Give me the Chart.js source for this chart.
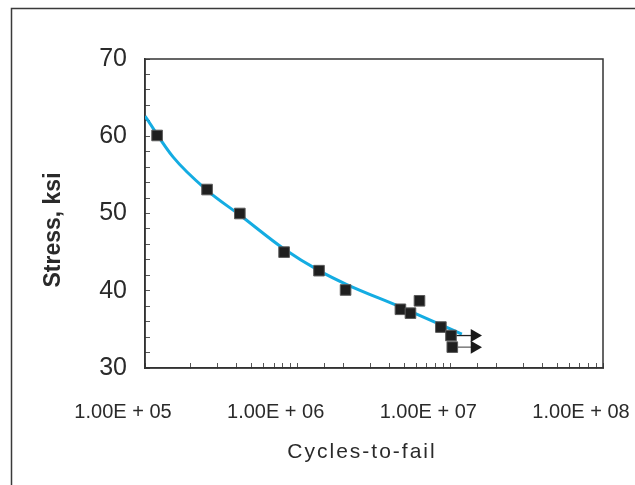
<!DOCTYPE html>
<html>
<head>
<meta charset="utf-8">
<script src="https://cdn.jsdelivr.net/npm/chart.js@4/dist/chart.umd.min.js"></script>
<style>
  html, body { margin: 0; padding: 0; background: #fff; }
  #wrap { width: 635px; height: 485px; position: relative; }
</style>
</head>
<body>
<div id="wrap"><canvas id="snChart"></canvas></div>
<script>
// ── Data ──────────────────────────────────────────────────────
const cycles = [1.20e5, 2.55e5, 4.18e5, 8.15e5, 1.38e6, 2.06e6, 4.71e6, 5.48e6, 6.28e6, 8.67e6, 1.01e7, 1.03e7];
const stress = [60.1, 53.1, 50.0, 45.0, 42.6, 40.1, 37.6, 37.1, 38.7, 35.3, 34.2, 32.7];

// trend curve, sampled along the drawn line
const fitCycles = [1.0e5, 1.53e5, 2.55e5, 4.18e5, 8.15e5, 1.38e6, 2.10e6, 4.71e6, 7.02e6, 1.19e7];
const fitStress = [62.6, 57.3, 53.0, 49.8, 45.4, 42.6, 40.8, 37.9, 36.4, 34.4];

// run-outs (did not fail): arrow from the point to the right
const runoutFrom   = [1.01e7, 1.03e7];
const runoutTo     = [1.44e7, 1.44e7];
const runoutStress = [34.2, 32.7];

const yTicks = [30, 40, 50, 60, 70];
const xDecades = [5, 6, 7, 8];

const FONT = "'Liberation Sans', Arial, sans-serif";
const INK  = '#2a2a2a';

// ── Datasets ──────────────────────────────────────────────────
const points = cycles.map((c, i) => ({ x: c, y: stress[i] }));
const curve  = fitCycles.map((c, i) => ({ x: c, y: fitStress[i] }));

const arrowSets = runoutFrom.map((c, i) => ({
    type: 'line',
    data: [{ x: c, y: runoutStress[i] }, { x: runoutTo[i], y: runoutStress[i] }],
    borderColor: i === 0 ? '#222' : '#666',
    borderWidth: 1.3,
    pointRadius: [0, 7.5],
    pointStyle: 'triangle',
    pointRotation: 90,
    pointBackgroundColor: '#1a1a1a',
    pointBorderColor: '#1a1a1a',
    pointBorderWidth: 0,
    order: 1
}));

// ── Frame, plot box, axis titles ──────────────────────────────
const framePlugin = {
    id: 'frame',
    beforeDraw(chart) {
        const ctx = chart.ctx;
        ctx.save();
        ctx.strokeStyle = '#3a3a3a';
        ctx.lineWidth = 1.5;
        ctx.strokeRect(11.5, 8.5, 700, 600);
        ctx.restore();
    },
    beforeDatasetsDraw(chart) {
        const { ctx, chartArea: a } = chart;
        ctx.save();
        ctx.strokeStyle = '#333';
        ctx.lineWidth = 1.5;
        ctx.strokeRect(a.left, a.top, a.right - a.left, a.bottom - a.top);
        ctx.restore();
    },
    afterDraw(chart) {
        const ctx = chart.ctx;
        ctx.save();
        ctx.fillStyle = INK;
        ctx.textAlign = 'center';
        ctx.textBaseline = 'middle';
        // x title
        ctx.font = "21px " + FONT;
        ctx.letterSpacing = '2px';
        ctx.fillText('Cycles-to-fail', 362, 452);
        // y title
        ctx.letterSpacing = '0px';
        ctx.font = "bold 23px " + FONT;
        ctx.translate(54, 230);
        ctx.rotate(-Math.PI / 2);
        ctx.fillText('Stress, ksi', 0, 0);
        ctx.restore();
    }
};

new Chart(document.getElementById('snChart'), {
    type: 'scatter',
    data: {
        datasets: [
            {
                label: 'Tests',
                data: points,
                pointStyle: 'rect',
                pointRadius: 7.5,
                pointHoverRadius: 7.5,
                pointBackgroundColor: '#1f1f1f',
                pointBorderColor: '#5a5a5a',
                pointBorderWidth: 1,
                order: 0
            },
            {
                type: 'line',
                label: 'Fit',
                data: curve,
                borderColor: '#14ace2',
                borderWidth: 3,
                pointRadius: 0,
                cubicInterpolationMode: 'monotone',
                order: 2
            },
            ...arrowSets
        ]
    },
    options: {
        responsive: true,
        maintainAspectRatio: false,
        animation: false,
        events: [],
        layout: { padding: { left: 0, top: 59, right: 32, bottom: 0 } },
        plugins: { legend: { display: false }, tooltip: { enabled: false } },
        scales: {
            x: {
                type: 'logarithmic',
                min: 1e5,
                max: 1e8,
                border: { display: true, color: '#333', width: 1.5 },
                grid: { drawOnChartArea: false, drawTicks: true, tickLength: -5, color: '#333', tickColor: '#555', tickWidth: 1 },
                ticks: {
                    autoSkip: false,
                    maxRotation: 0,
                    padding: 37,
                    labelOffset: -22,
                    color: INK,
                    font: { family: FONT, size: 20 },
                    callback: (v) => {
                        const e = Math.round(Math.log10(v));
                        if (!xDecades.includes(e) || Math.abs(v - Math.pow(10, e)) > 1) return '';
                        return '1.00E + ' + String(e).padStart(2, '0');
                    }
                },
                afterFit(scale) { scale.height = 117; scale.paddingLeft = 0; scale.paddingRight = 0; }
            },
            y: {
                min: 30,
                max: 70,
                border: { display: true, color: '#333', width: 1.5 },
                grid: { drawOnChartArea: false, drawTicks: true, tickLength: -5, color: '#333', tickColor: '#555', tickWidth: 1 },
                ticks: {
                    stepSize: 2,
                    autoSkip: false,
                    padding: 23,
                    color: INK,
                    font: { family: FONT, size: 25 },
                    callback: (v) => yTicks.includes(v) ? String(v) : ''
                },
                afterFit(scale) { scale.width = 145; scale.paddingTop = 0; scale.paddingBottom = 0; }
            }
        }
    },
    plugins: [framePlugin]
});
</script>
</body>
</html>
